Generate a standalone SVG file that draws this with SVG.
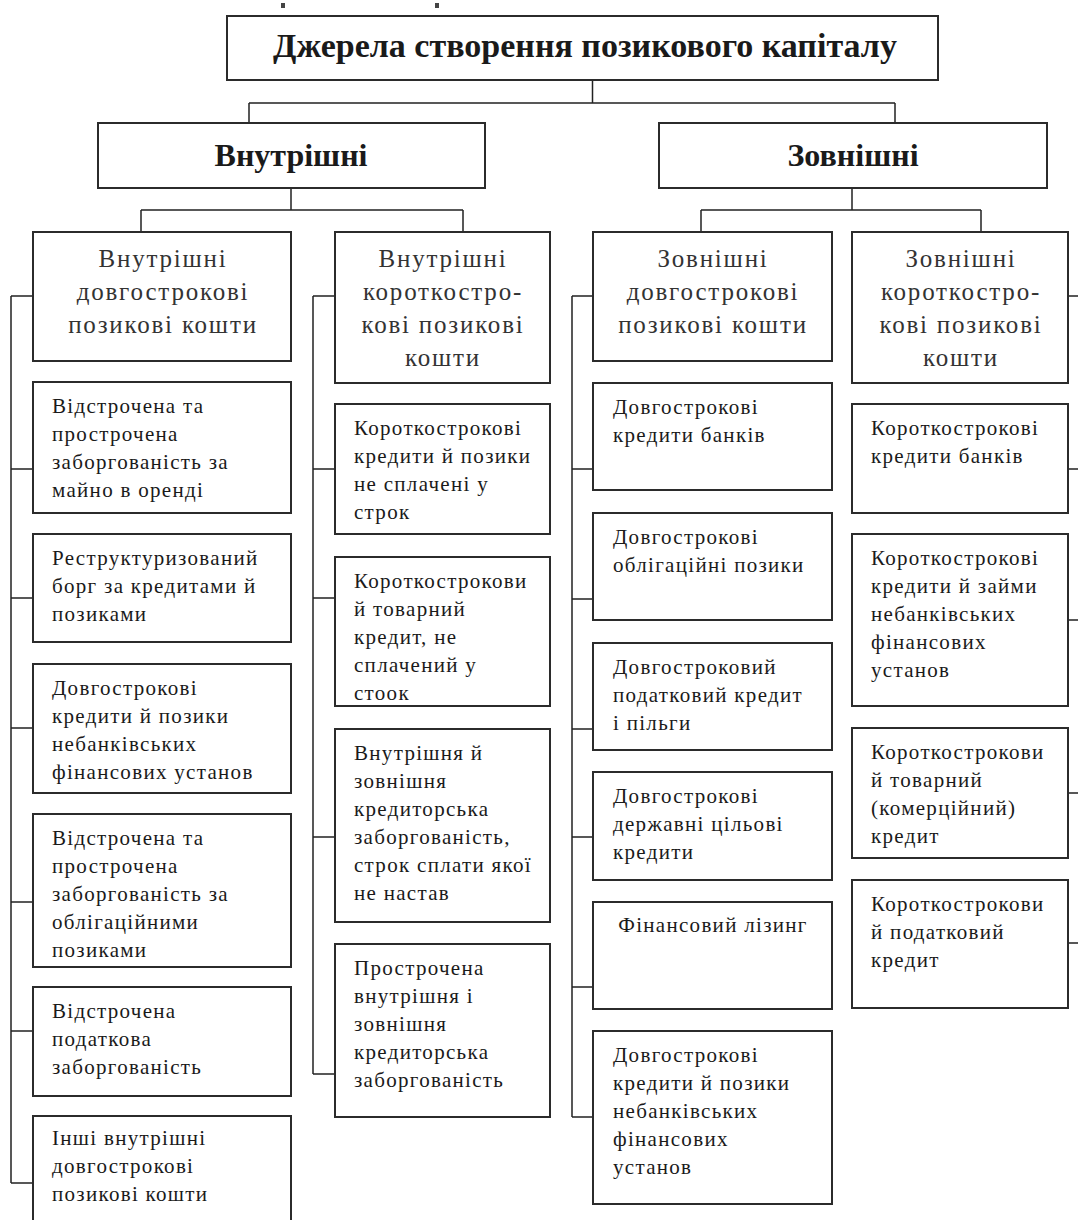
<svg xmlns="http://www.w3.org/2000/svg" width="1078" height="1220" viewBox="0 0 1078 1220">
<style>
.box{fill:#fff;stroke:#2b2b2b;stroke-width:2}
.conn{fill:none;stroke:#222;stroke-width:1.5}
text{font-family:"Liberation Serif","Times New Roman",serif;fill:#1a1a1a}
.t1{font-size:34px;font-weight:bold;text-anchor:middle}
.t2{font-size:32px;font-weight:bold;text-anchor:middle}
.h{font-size:25px;letter-spacing:1.8px;text-anchor:middle;fill:#333}
.b{font-size:21px;letter-spacing:1.3px}
.c{text-anchor:middle}
</style>
<rect x="281" y="3" width="4" height="5" fill="#444"/>
<rect x="435" y="3" width="4" height="5" fill="#444"/>
<g id="connectors" class="conn">
<path d="M592.5 80V103M249 103H895M249 103V123M895 103V123"/>
<path d="M291 188V210M141 210H463M141 210V232M463 210V232"/>
<path d="M852 188V210M701 210H981M701 210V232M981 210V232"/>
<path d="M11 296V1183M11 296H33M11 469H33M11 598H33M11 728H33M11 902H33M11 1031H33M11 1183H33"/>
<path d="M313 296V1074M313 296H335M313 469H335M313 598H335M313 837H335M313 1074H335"/>
<path d="M572 296V1117M572 296H593M572 469H593M572 599H593M572 729H593M572 837H593M572 987H593M572 1117H593"/>
<path d="M1068 296H1080M1068 469H1080M1068 620H1080M1068 793H1080M1068 943H1080"/>
</g>
<g id="root"><rect class="box" x="227" y="16" width="711" height="64"/><text class="t1" x="585" y="57">Джерела створення позикового капіталу</text></g>
<g id="internal"><rect class="box" x="98" y="123" width="387" height="65"/><text class="t2" x="291" y="166">Внутрішні</text></g>
<g id="external"><rect class="box" x="659" y="123" width="388" height="65"/><text class="t2" x="853" y="166">Зовнішні</text></g>

<g id="int-long"><rect class="box" x="33" y="232" width="258" height="129"/><text class="h" x="163"><tspan x="163" y="267">Внутрішні</tspan><tspan x="163" y="300">довгострокові</tspan><tspan x="163" y="333">позикові кошти</tspan></text></g>
<g id="int-short"><rect class="box" x="335" y="232" width="215" height="151"/><text class="h" x="443"><tspan x="443" y="267">Внутрішні</tspan><tspan x="443" y="300">короткостро-</tspan><tspan x="443" y="333">кові позикові</tspan><tspan x="443" y="366">кошти</tspan></text></g>
<g id="ext-long"><rect class="box" x="593" y="232" width="239" height="129"/><text class="h" x="713"><tspan x="713" y="267">Зовнішні</tspan><tspan x="713" y="300">довгострокові</tspan><tspan x="713" y="333">позикові кошти</tspan></text></g>
<g id="ext-short"><rect class="box" x="852" y="232" width="216" height="151"/><text class="h" x="961"><tspan x="961" y="267">Зовнішні</tspan><tspan x="961" y="300">короткостро-</tspan><tspan x="961" y="333">кові позикові</tspan><tspan x="961" y="366">кошти</tspan></text></g>

<g id="c1-1"><rect class="box" x="33" y="382" width="258" height="131"/><text class="b"><tspan x="52" y="413">Відстрочена та</tspan><tspan x="52" y="441">прострочена</tspan><tspan x="52" y="469">заборгованість за</tspan><tspan x="52" y="497">майно в оренді</tspan></text></g>
<g id="c1-2"><rect class="box" x="33" y="534" width="258" height="108"/><text class="b"><tspan x="52" y="565">Реструктуризований</tspan><tspan x="52" y="593">борг за кредитами й</tspan><tspan x="52" y="621">позиками</tspan></text></g>
<g id="c1-3"><rect class="box" x="33" y="664" width="258" height="129"/><text class="b"><tspan x="52" y="695">Довгострокові</tspan><tspan x="52" y="723">кредити й позики</tspan><tspan x="52" y="751">небанківських</tspan><tspan x="52" y="779">фінансових установ</tspan></text></g>
<g id="c1-4"><rect class="box" x="33" y="814" width="258" height="153"/><text class="b"><tspan x="52" y="845">Відстрочена та</tspan><tspan x="52" y="873">прострочена</tspan><tspan x="52" y="901">заборгованість за</tspan><tspan x="52" y="929">облігаційними</tspan><tspan x="52" y="957">позиками</tspan></text></g>
<g id="c1-5"><rect class="box" x="33" y="987" width="258" height="109"/><text class="b"><tspan x="52" y="1018">Відстрочена</tspan><tspan x="52" y="1046">податкова</tspan><tspan x="52" y="1074">заборгованість</tspan></text></g>
<g id="c1-6"><rect class="box" x="33" y="1116" width="258" height="130"/><text class="b"><tspan x="52" y="1145">Інші внутрішні</tspan><tspan x="52" y="1173">довгострокові</tspan><tspan x="52" y="1201">позикові кошти</tspan></text></g>

<g id="c2-1"><rect class="box" x="335" y="404" width="215" height="130"/><text class="b"><tspan x="354" y="435">Короткострокові</tspan><tspan x="354" y="463">кредити й позики</tspan><tspan x="354" y="491">не сплачені у</tspan><tspan x="354" y="519">строк</tspan></text></g>
<g id="c2-2"><rect class="box" x="335" y="557" width="215" height="149"/><text class="b"><tspan x="354" y="588">Короткострокови</tspan><tspan x="354" y="616">й товарний</tspan><tspan x="354" y="644">кредит, не</tspan><tspan x="354" y="672">сплачений у</tspan><tspan x="354" y="700">стоок</tspan></text></g>
<g id="c2-3"><rect class="box" x="335" y="729" width="215" height="193"/><text class="b"><tspan x="354" y="760">Внутрішня й</tspan><tspan x="354" y="788">зовнішня</tspan><tspan x="354" y="816">кредиторська</tspan><tspan x="354" y="844">заборгованість,</tspan><tspan x="354" y="872">строк сплати якої</tspan><tspan x="354" y="900">не настав</tspan></text></g>
<g id="c2-4"><rect class="box" x="335" y="944" width="215" height="173"/><text class="b"><tspan x="354" y="975">Прострочена</tspan><tspan x="354" y="1003">внутрішня і</tspan><tspan x="354" y="1031">зовнішня</tspan><tspan x="354" y="1059">кредиторська</tspan><tspan x="354" y="1087">заборгованість</tspan></text></g>

<g id="c3-1"><rect class="box" x="593" y="383" width="239" height="107"/><text class="b"><tspan x="613" y="414">Довгострокові</tspan><tspan x="613" y="442">кредити банків</tspan></text></g>
<g id="c3-2"><rect class="box" x="593" y="513" width="239" height="107"/><text class="b"><tspan x="613" y="544">Довгострокові</tspan><tspan x="613" y="572">облігаційні позики</tspan></text></g>
<g id="c3-3"><rect class="box" x="593" y="643" width="239" height="107"/><text class="b"><tspan x="613" y="674">Довгостроковий</tspan><tspan x="613" y="702">податковий  кредит</tspan><tspan x="613" y="730">і пільги</tspan></text></g>
<g id="c3-4"><rect class="box" x="593" y="772" width="239" height="108"/><text class="b"><tspan x="613" y="803">Довгострокові</tspan><tspan x="613" y="831">державні цільові</tspan><tspan x="613" y="859">кредити</tspan></text></g>
<g id="c3-5"><rect class="box" x="593" y="902" width="239" height="107"/><text class="b c" x="713" y="932">Фінансовий лізинг</text></g>
<g id="c3-6"><rect class="box" x="593" y="1031" width="239" height="173"/><text class="b"><tspan x="613" y="1062">Довгострокові</tspan><tspan x="613" y="1090">кредити й позики</tspan><tspan x="613" y="1118">небанківських</tspan><tspan x="613" y="1146">фінансових</tspan><tspan x="613" y="1174">установ</tspan></text></g>

<g id="c4-1"><rect class="box" x="852" y="404" width="216" height="109"/><text class="b"><tspan x="871" y="435">Короткострокові</tspan><tspan x="871" y="463">кредити банків</tspan></text></g>
<g id="c4-2"><rect class="box" x="852" y="534" width="216" height="172"/><text class="b"><tspan x="871" y="565">Короткострокові</tspan><tspan x="871" y="593">кредити  й  займи</tspan><tspan x="871" y="621">небанківських</tspan><tspan x="871" y="649">фінансових</tspan><tspan x="871" y="677">установ</tspan></text></g>
<g id="c4-3"><rect class="box" x="852" y="728" width="216" height="130"/><text class="b"><tspan x="871" y="759">Короткострокови</tspan><tspan x="871" y="787">й товарний</tspan><tspan x="871" y="815">(комерційний)</tspan><tspan x="871" y="843">кредит</tspan></text></g>
<g id="c4-4"><rect class="box" x="852" y="880" width="216" height="128"/><text class="b"><tspan x="871" y="911">Короткострокови</tspan><tspan x="871" y="939">й податковий</tspan><tspan x="871" y="967">кредит</tspan></text></g>
</svg>
